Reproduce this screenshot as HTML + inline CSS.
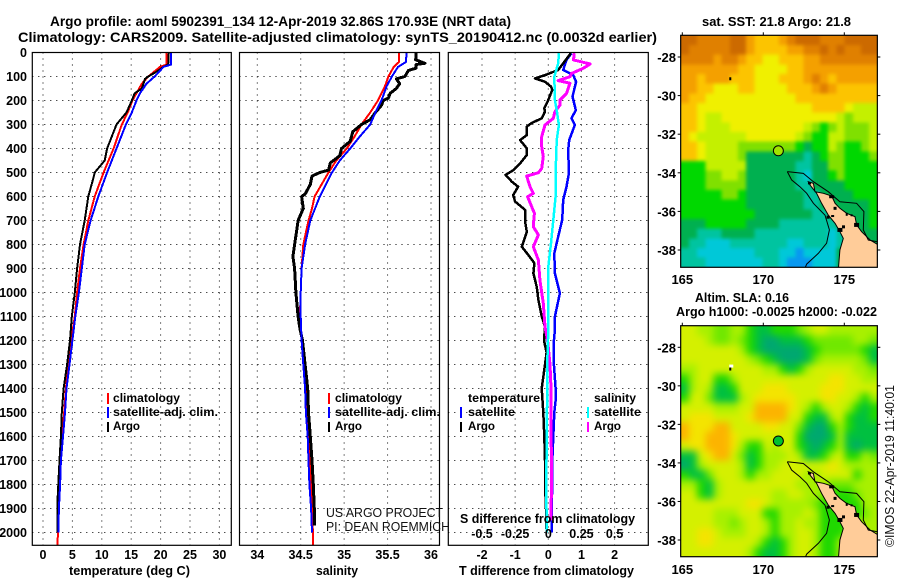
<!DOCTYPE html>
<html>
<head>
<meta charset="utf-8">
<title>Argo profile 5902391_134</title>
<style>
html,body{margin:0;padding:0;background:#fff;}
svg{display:block;font-family:"Liberation Sans",sans-serif;}
.b{font-weight:bold;fill:#000;}
.r{font-weight:normal;fill:#111;}
</style>
</head>
<body>
<svg id="chart" xmlns="http://www.w3.org/2000/svg" width="900" height="580" viewBox="0 0 900 580">
<rect width="900" height="580" fill="#fff"/>
<text class="b" x="50" y="26" font-size="13.5" textLength="461" lengthAdjust="spacingAndGlyphs">Argo profile: aoml 5902391_134 12-Apr-2019 32.86S 170.93E (NRT data)</text>
<text class="b" x="18" y="42" font-size="13.5" textLength="639" lengthAdjust="spacingAndGlyphs">Climatology: CARS2009. Satellite-adjusted climatology: synTS_20190412.nc (0.0032d earlier)</text>
<g id="panels"></g>
<g id="maps"></g>
<text class="b" x="69" y="575" font-size="12.5" textLength="121" lengthAdjust="spacingAndGlyphs">temperature (deg C)</text>
<text class="b" x="316" y="575" font-size="12.5" textLength="42" lengthAdjust="spacingAndGlyphs">salinity</text>
<text class="b" x="459" y="575" font-size="12.5" textLength="175" lengthAdjust="spacingAndGlyphs">T difference from climatology</text>
<text class="b" x="460" y="523" font-size="12.5" textLength="175" lengthAdjust="spacingAndGlyphs">S difference from climatology</text>
<text class="r" x="326" y="517" font-size="12.5" textLength="117" lengthAdjust="spacingAndGlyphs">US ARGO PROJECT</text>
<text class="r" x="326" y="531" font-size="12.5" textLength="124" lengthAdjust="spacingAndGlyphs">PI: DEAN ROEMMICH</text>
<g>
<text class="b" x="113" y="402" font-size="12" textLength="67" lengthAdjust="spacingAndGlyphs">climatology</text>
<text class="b" x="113" y="416" font-size="12" textLength="105" lengthAdjust="spacingAndGlyphs">satellite-adj. clim.</text>
<text class="b" x="113" y="430" font-size="12" textLength="27" lengthAdjust="spacingAndGlyphs">Argo</text>
<rect x="107" y="393" width="2" height="11" fill="#f00"/>
<rect x="107" y="407" width="2" height="11" fill="#00f"/>
<rect x="107" y="422" width="2" height="10" fill="#000"/>
</g>
<g>
<text class="b" x="335" y="402" font-size="12" textLength="67" lengthAdjust="spacingAndGlyphs">climatology</text>
<text class="b" x="335" y="416" font-size="12" textLength="105" lengthAdjust="spacingAndGlyphs">satellite-adj. clim.</text>
<text class="b" x="335" y="430" font-size="12" textLength="27" lengthAdjust="spacingAndGlyphs">Argo</text>
<rect x="328" y="393" width="2" height="11" fill="#f00"/>
<rect x="328" y="407" width="2" height="11" fill="#00f"/>
<rect x="328" y="422" width="2" height="10" fill="#000"/>
</g>
<g>
<text class="b" x="468" y="402" font-size="12" textLength="72" lengthAdjust="spacingAndGlyphs">temperature</text>
<text class="b" x="468" y="416" font-size="12" textLength="47" lengthAdjust="spacingAndGlyphs">satellite</text>
<text class="b" x="468" y="430" font-size="12" textLength="27" lengthAdjust="spacingAndGlyphs">Argo</text>
<rect x="460" y="407" width="2" height="11" fill="#00f"/>
<rect x="460" y="422" width="2" height="10" fill="#000"/>
<text class="b" x="594" y="402" font-size="12" textLength="42" lengthAdjust="spacingAndGlyphs">salinity</text>
<text class="b" x="594" y="416" font-size="12" textLength="47" lengthAdjust="spacingAndGlyphs">satellite</text>
<text class="b" x="594" y="430" font-size="12" textLength="27" lengthAdjust="spacingAndGlyphs">Argo</text>
<rect x="587" y="407" width="2" height="11" fill="#0ff"/>
<rect x="587" y="422" width="2" height="10" fill="#f0f"/>
</g>
<text class="b" x="702" y="26" font-size="12.5" textLength="149" lengthAdjust="spacingAndGlyphs">sat. SST: 21.8 Argo: 21.8</text>
<text class="b" x="695" y="302" font-size="12.5" textLength="94" lengthAdjust="spacingAndGlyphs">Altim. SLA: 0.16</text>
<text class="b" x="676" y="316" font-size="12.5" textLength="201" lengthAdjust="spacingAndGlyphs">Argo h1000: -0.0025 h2000: -0.022</text>
<text class="r" font-size="13" transform="translate(894,547) rotate(-90)" textLength="162" lengthAdjust="spacingAndGlyphs">©IMOS 22-Apr-2019 11:40:01</text>
</svg>
<script>
/* ---------- profile data (depth in m, temperature in deg C, salinity in psu) ---------- */
const depthTicks = [0,100,200,300,400,500,600,700,800,900,1000,1100,1200,1300,1400,1500,1600,1700,1800,1900,2000];
const tempTicks = [0,5,10,15,20,25,30];
const salTicks = [34,34.5,35,35.5,36];
const salTickLabels = ['34','34.5','35','35.5','36'];
const tDiffTicks = [-2,-1,0,1,2];
const sDiffTicks = [-0.5,-0.25,0,0.25,0.5];
const sDiffTickLabels = ['-0.5','-0.25','0','0.25','0.5'];

const tempClimDepth = [0,40,50,60,100,130,170,200,250,300,400,500,600,700,800,900,1000,1100,1200,1300,1400,1500,1600,1700,1800,1900,2000,2053];
const tempClim = [21.0,21.0,21.0,19.9,17.9,16.8,15.9,15.2,14.4,13.4,12.0,10.3,8.8,7.7,6.9,6.3,5.8,5.4,4.8,4.3,3.9,3.6,3.2,2.95,2.8,2.7,2.55,2.45];
const tempSatDepth = [0,50,60,100,130,170,200,250,300,400,500,600,700,800,900,1000,1100,1200,1300,1400,1500,1600,1700,1800,1900,2000];
const tempSat = [21.8,21.8,20.5,19.0,17.6,16.5,15.9,15.1,14.1,12.5,10.9,9.4,8.1,7.1,6.6,6.1,5.5,5.0,4.5,4.0,3.75,3.4,3.05,2.9,2.7,2.6];
const tempArgoDepth = [0,50,60,80,100,110,150,170,200,250,300,350,400,450,500,520,600,700,800,900,1000,1100,1200,1300,1400,1500,1600,1700,1800,1850,2000];
const tempArgo = [21.4,21.3,20.5,19.3,17.9,17.35,16.8,15.6,15.1,14.2,12.5,11.7,10.9,10.5,8.8,8.6,7.7,7.1,6.3,5.8,5.4,4.9,4.6,4.1,3.5,3.2,3.05,2.8,2.6,2.5,2.5];

const salClimDepth = [0,40,60,100,140,200,250,300,350,400,450,500,600,650,700,800,900,1000,1100,1200,1300,1400,1500,1600,1700,1800,1900,2000,2053];
const salClim = [35.63,35.63,35.57,35.51,35.47,35.39,35.3,35.2,35.12,35.03,34.91,34.82,34.66,34.63,34.59,34.53,34.51,34.5,34.49,34.51,34.53,34.556,34.57,34.59,34.61,34.62,34.63,34.64,34.64];
const salSatDepth = [0,40,60,100,140,200,250,300,350,400,450,500,600,700,800,900,1000,1100,1200,1300,1400,1500,1600,1700,1800,1900,2000];
const salSat = [35.72,35.71,35.62,35.55,35.49,35.43,35.36,35.3,35.18,35.07,34.95,34.86,34.72,34.61,34.55,34.51,34.5,34.5,34.51,34.53,34.55,34.56,34.58,34.59,34.6,34.62,34.63];
const salArgoDepth = [0,20,30,45,50,65,75,100,110,130,150,170,190,200,220,250,280,300,330,370,400,430,460,490,500,515,550,590,600,650,700,750,800,850,900,1000,1100,1150,1200,1300,1400,1500,1600,1700,1800,1900,1970];
const salArgo = [35.83,35.83,35.82,35.93,35.83,35.83,35.74,35.7,35.6,35.64,35.6,35.53,35.51,35.45,35.43,35.36,35.3,35.2,35.1,35.07,34.97,34.95,34.84,34.82,34.72,34.63,34.61,34.55,34.51,34.53,34.47,34.45,34.43,34.41,34.43,34.445,34.47,34.49,34.52,34.55,34.58,34.59,34.61,34.63,34.645,34.656,34.66];

const tDiffSatDepth = [3,31,73,94,122,184,240,274,302,365,406,503,559,614,698,767,837,920,1003,1100,1156,1200,1300,1400,1450,1500,1600,1700,1800,1900,2000];
const tDiffSat = [0.7,0.55,0.45,0.75,0.84,0.73,0.83,0.7,0.8,0.63,0.6,0.62,0.55,0.45,0.42,0.3,0.18,0.2,0.35,0.2,0.2,0.17,0.17,0.22,0.22,0.18,0.15,0.12,0.12,0.1,0.1];
const tDiffArgoDepth = [3,17,45,73,94,108,122,142,156,198,232,246,274,295,309,344,365,399,427,462,490,510,538,559,594,621,656,705,747,809,844,878,920,976,1031,1100,1142,1200,1250,1300,1400,1500,1600,1700,1800,1900,2000];
const tDiffArgo = [0.68,0.6,0.45,0.3,-0.1,-0.4,-0.1,0.08,0.12,0,-0.12,-0.1,-0.2,-0.52,-0.65,-0.65,-0.85,-0.65,-0.65,-0.85,-1.05,-1.29,-1.1,-0.91,-1.06,-1.0,-0.7,-0.7,-0.65,-0.8,-0.6,-0.42,-0.45,-0.35,-0.3,-0.2,-0.1,-0.13,-0.05,-0.1,-0.2,-0.15,-0.12,-0.1,-0.1,-0.07,-0.05];
const sDiffSatDepth = [3,45,101,198,240,302,365,503,600,698,795,892,1003,1156,1300,1400,1600,1800,2000];
const sDiffSat = [0.08,0.075,0.045,0.05,0.063,0.08,0.063,0.055,0.055,0.038,0.02,0,0,0,-0.008,-0.008,-0.012,-0.015,-0.012];
const sDiffArgoDepth = [3,31,48,66,87,101,117,128,170,198,219,247,274,302,351,392,434,483,501,515,559,587,601,670,726,760,809,865,948,1045,1142,1200,1300,1400,1500,1600,1700,1800,1900,1950];
const sDiffArgo = [0.196,0.19,0.315,0.264,0.176,0.163,0.075,0.163,0.138,0.088,0.088,0.05,0.038,-0.025,-0.05,-0.05,-0.038,-0.05,-0.075,-0.163,-0.138,-0.113,-0.156,-0.105,-0.113,-0.075,-0.113,-0.075,-0.063,-0.038,-0.025,-0.005,0.013,0.02,0.02,0.02,0.025,0.025,0.02,0.02];

/* ---------- map data (rows run north to south, columns west to east, 0.5 degree cells) ---------- */
const lonTicks = [165,170,175];
const latTicks = [28,30,32,34,36,38];
const sstPalette = ['#cc6a00','#e08000','#f4a000','#fcc400','#f0f000','#c4f000','#80e000','#00d800','#00b050','#00c4a0','#00c8d8','#0898f0'];
const slaPalette = ['#fcb400','#f4e400','#d4f000','#a8f000','#70e800','#20d800','#00c040','#00a870'];
const sstLevels = [
[0,0,1,1,1,1,0,0,2,3,3,3,2,1,0,0,0,1,1,1,0,0,0,0],
[0,1,1,1,1,1,0,0,2,3,3,3,3,2,2,1,1,0,1,0,1,1,0,0],
[1,1,1,1,2,1,1,2,3,3,4,4,3,3,3,2,2,1,1,1,1,1,1,1],
[2,2,2,2,2,2,2,3,3,4,4,4,4,3,3,2,2,2,2,2,2,2,2,2],
[2,2,3,2,2,2,3,3,3,4,4,4,3,3,3,2,1,2,3,2,2,2,2,2],
[2,2,3,3,4,4,4,3,3,4,4,4,4,3,3,3,2,1,2,3,3,3,3,3],
[2,3,3,4,4,4,4,4,4,4,4,4,4,4,3,3,3,3,3,3,3,3,3,3],
[3,3,4,4,4,4,4,4,4,4,4,4,4,4,4,4,3,3,3,3,4,5,5,5],
[3,3,4,5,5,4,4,4,4,4,4,4,4,4,4,4,4,4,4,5,6,5,5,5],
[3,3,4,5,5,5,4,4,4,4,4,4,4,4,4,5,6,7,6,5,6,6,6,5],
[3,4,5,5,5,5,5,5,4,4,4,4,4,4,5,6,7,7,5,5,6,6,6,5],
[3,3,4,5,5,5,5,6,6,6,6,6,6,6,7,8,7,7,5,6,7,7,6,5],
[3,3,4,5,5,5,5,6,8,8,8,8,8,8,8,9,8,7,6,6,7,7,7,6],
[7,7,7,5,5,5,5,5,8,8,8,8,8,8,9,9,8,8,6,6,7,7,7,7],
[7,7,7,6,6,5,5,6,8,8,8,8,8,8,9,10,8,8,7,6,7,7,7,7],
[7,7,7,6,6,6,6,6,8,8,8,8,8,8,9,9,8,8,8,8,7,7,7,7],
[7,7,7,7,7,6,6,7,8,8,8,8,8,8,8,9,9,8,8,8,8,7,7,7],
[7,7,7,7,7,7,7,7,8,8,8,8,8,8,8,9,9,8,8,8,8,8,8,7],
[7,7,7,7,7,7,7,7,7,8,8,8,8,8,8,8,9,9,8,8,8,8,8,7],
[8,8,8,7,7,7,7,7,8,8,8,8,9,9,9,9,9,9,9,8,8,8,8,7],
[8,8,9,9,9,8,8,8,8,9,9,9,9,9,9,9,9,9,10,9,8,8,8,8],
[8,9,9,10,10,10,9,9,9,9,9,9,9,10,10,9,9,9,10,9,8,8,8,8],
[9,9,10,10,10,10,10,10,10,9,9,9,10,10,11,10,10,10,10,8,8,8,8,8],
[9,9,9,10,10,10,10,10,10,10,9,9,10,11,11,11,10,10,10,8,8,8,8,8]
];
const slaLevels = [
[2,2,3,3,4,4,3,3,5,6,6,5,5,5,4,3,2,2,3,3,3,3,3,3],
[2,2,2,3,4,4,3,4,5,6,7,7,6,6,6,5,4,4,4,4,4,3,3,4],
[2,2,2,2,2,2,2,3,5,6,7,7,7,7,7,6,5,4,4,4,4,4,5,6],
[2,2,2,2,2,2,2,2,3,4,5,6,7,7,7,6,4,3,3,3,3,3,4,6],
[3,3,2,2,2,2,2,2,2,2,3,3,5,6,5,3,2,2,2,2,2,3,3,4],
[5,3,2,2,5,5,3,2,2,2,2,2,2,2,2,2,2,2,1,1,2,2,3,3],
[6,3,2,3,6,6,5,2,2,2,1,1,1,2,2,2,2,1,1,1,2,2,2,2],
[5,2,2,4,6,6,6,3,2,1,1,1,1,1,2,2,2,1,1,2,2,3,5,3],
[2,2,2,2,3,3,3,2,2,0,0,0,0,1,2,3,5,3,2,2,3,5,6,5],
[2,1,1,1,2,2,2,2,1,0,0,0,0,2,2,5,6,6,3,2,5,6,6,5],
[0,1,1,1,0,0,2,2,2,2,1,1,2,2,4,6,7,7,5,3,5,6,6,6],
[0,1,1,0,0,0,1,2,2,2,2,2,2,2,5,7,7,7,6,3,6,6,6,6],
[2,1,1,0,0,0,1,3,5,5,2,3,2,2,5,6,7,6,5,3,6,7,6,6],
[6,6,2,1,0,0,2,4,6,5,3,3,3,2,3,6,6,5,3,2,5,5,3,4],
[7,6,3,2,2,2,2,3,6,5,3,3,2,2,2,2,2,2,1,2,3,3,3,3],
[5,6,6,4,2,2,2,3,5,3,3,2,2,2,2,3,3,2,2,2,2,5,3,3],
[3,3,5,6,3,2,2,2,2,2,2,2,2,2,3,3,3,3,4,4,4,3,3,3],
[2,2,5,6,3,2,2,2,2,2,2,3,3,2,2,3,3,4,5,5,5,4,3,3],
[2,2,2,2,2,2,2,2,1,1,2,3,3,3,3,3,4,5,5,5,5,5,3,3],
[2,2,2,2,3,3,3,2,2,2,5,5,3,3,3,2,3,5,5,5,5,5,4,3],
[2,2,2,2,3,3,4,3,2,2,3,5,3,3,2,3,3,5,5,5,5,3,3,3],
[2,2,1,1,2,3,3,3,2,2,3,5,3,3,2,2,3,5,5,5,3,3,3,3],
[2,2,1,1,2,2,2,2,2,3,5,6,5,3,2,2,3,5,5,3,3,3,3,3],
[2,2,2,2,2,2,2,2,3,5,6,6,5,3,2,2,3,5,5,3,3,3,3,3]
];
const landLon = [172.78,173.09,173.19,173.71,174.22,174.43,174.73,175.15,175.66,175.76,176.07,176.59,177.2,177.2,174.63,174.73,174.94,174.73,174.43,174.01,173.6,173.29,172.88];
const landLat = [34.46,34.55,34.98,35.06,35.2,35.58,35.84,36.1,36.27,36.7,37.05,37.48,37.79,39.04,39.04,38,37.4,37.05,36.62,36.19,35.58,35.06,34.63];
const contourWestLon = [171.48,171.75,172.26,172.68,173.09,173.81,174.08,173.91,173.4,172.68,172.57];
const contourWestLat = [33.94,34.37,34.72,35.06,35.58,36.19,36.96,37.65,38.17,38.73,38.95];
const contourEastLon = [171.48,172.47,173.09,174.01,174.73,175.76,176.21,176.17,176.48,177.04];
const contourEastLat = [33.94,34.03,34.46,34.98,35.5,35.58,36.01,36.96,37.48,37.57];
const speckLon = [174.22,174.43,174.28,174.73,175.76,175.15,175.45,174.95,172.85,174.0];
const speckLat = [35.24,35.84,36.24,36.96,36.7,36.15,36.2,36.8,34.55,36.3];
const speckW = [5,3,3,5,5,2,2,3,3,3];
const speckH = [3,3,2,4,4,3,2,3,2,3];
const argoLon = 170.93;
const argoLat = 32.86;

/* ---------- drawing ---------- */
const NS = 'http://www.w3.org/2000/svg';
const panels = document.getElementById('panels');
const maps = document.getElementById('maps');
const TOP = 52.5, BOTTOM = 545.3, DEPTH_SCALE = 0.24;
const depthY = d => TOP + d * DEPTH_SCALE;
const tempX = t => 43 + 5.88 * t;
const salX = s => 257.3 + 86.85 * (s - 34);
const tDiffX = t => 548.3 + 33.15 * t;
const sDiffX = s => 548.3 + 132.6 * s;

function make(parent, tag, props) {
  const e = document.createElementNS(NS, tag);
  for (const k in props) e.setAttribute(k, props[k]);
  parent.appendChild(e);
  return e;
}
function label(parent, x, y, str, anchor, size) {
  const e = make(parent, 'text', {x: x, y: y, 'text-anchor': anchor, 'font-size': size, class: 'b'});
  e.textContent = str;
  return e;
}
function series(parent, depths, values, xFn, color, width, name) {
  const pts = depths.map((d, i) => xFn(values[i]).toFixed(1) + ',' + depthY(d).toFixed(1)).join(' ');
  const e = make(parent, 'polyline', {points: pts, fill: 'none', stroke: color, 'stroke-width': width, 'stroke-linejoin': 'round', 'shape-rendering': 'crispEdges'});
  
  
  return e;
}
function profilePanel(name, x0, x1, xFn, ticks) {
  const g = make(panels, 'g', {});
  
  
  ticks.forEach(t => {
    const gl = make(g, 'line', {x1: xFn(t), x2: xFn(t), y1: TOP, y2: BOTTOM, stroke: '#000', 'stroke-width': 1, 'stroke-dasharray': '1 5'});
    
    
  });
  depthTicks.forEach(d => {
    if (d === 0) return;
    const gl = make(g, 'line', {x1: x0, x2: x1, y1: depthY(d), y2: depthY(d), stroke: '#000', 'stroke-width': 1, 'stroke-dasharray': '1 5'});
    
    
  });
  return g;
}
function frame(parent, x0, y0, x1, y1, name) {
  const f = make(parent, 'rect', {x: x0, y: y0, width: x1 - x0, height: y1 - y0, fill: 'none', stroke: '#000', 'stroke-width': 1.2});
  
  
}

/* temperature panel */
const p1 = profilePanel('temperature-panel', 32.3, 231.3, tempX, tempTicks);
series(p1, tempClimDepth, tempClim, tempX, '#f00', 2, 'temperature-climatology-line');
series(p1, tempArgoDepth, tempArgo, tempX, '#000', 2, 'temperature-argo-line');
series(p1, tempSatDepth, tempSat, tempX, '#00f', 2, 'temperature-satellite-line');
frame(p1, 32.3, TOP, 231.3, BOTTOM, 'temperature-panel-frame');
tempTicks.forEach(t => {
  const e = label(p1, tempX(t), 559, String(t), 'middle', 12.5);
  
  
});
depthTicks.forEach(d => {
  const e = label(p1, 27, depthY(d) + 4.5, String(d), 'end', 12.5);
  
  
});

/* salinity panel */
const p2 = profilePanel('salinity-panel', 239.5, 439.5, salX, salTicks);
series(p2, salClimDepth, salClim, salX, '#f00', 2, 'salinity-climatology-line');
series(p2, salArgoDepth, salArgo, salX, '#000', 3, 'salinity-argo-line');
series(p2, salSatDepth, salSat, salX, '#00f', 2, 'salinity-satellite-line');
frame(p2, 239.5, TOP, 439.5, BOTTOM, 'salinity-panel-frame');
salTicks.forEach((t, i) => {
  const e = label(p2, salX(t), 559, salTickLabels[i], 'middle', 12.5);
  
  
});

/* difference panel */
const p3 = profilePanel('difference-panel', 448.3, 648.3, tDiffX, tDiffTicks);
series(p3, tDiffSatDepth, tDiffSat, tDiffX, '#00f', 2.5, 't-difference-satellite-line');
series(p3, tDiffArgoDepth, tDiffArgo, tDiffX, '#000', 2.5, 't-difference-argo-line');
series(p3, sDiffArgoDepth, sDiffArgo, sDiffX, '#f0f', 3, 's-difference-argo-line');
series(p3, sDiffSatDepth, sDiffSat, sDiffX, '#0ff', 2.5, 's-difference-satellite-line');
frame(p3, 448.3, TOP, 648.3, BOTTOM, 'difference-panel-frame');
tDiffTicks.forEach(t => {
  const e = label(p3, tDiffX(t), 559, String(t), 'middle', 12.5);
  
  
});
sDiffTicks.forEach((s, i) => {
  const e = label(p3, sDiffX(s), 538, sDiffTickLabels[i], 'middle', 12.5);
  
  
});

/* maps */
const LON0 = 164.9, LON1 = 177.04;
function drawMap(name, levels, palette, yTop, yBottom, lat28, latScale, labelY, circleFill, smooth, bg, isletPatch) {
  const lonX = lon => 682.3 + 16.2 * (lon - 165);
  const latY = lat => lat28 + latScale * (lat - 28);
  const x0 = lonX(LON0), x1 = lonX(LON1);
  const g = make(maps, 'g', {});
  
  
  const clipId = name + '-clip';
  const defs = make(g, 'defs', {});
  const clip = make(defs, 'clipPath', {id: clipId});
  make(clip, 'rect', {x: x0, y: yTop, width: x1 - x0, height: yBottom - yTop});
  const body = make(g, 'g', {'clip-path': 'url(#' + clipId + ')'});
  const under = make(body, 'rect', {x: x0, y: yTop, width: x1 - x0, height: yBottom - yTop, fill: bg});
  
  
  const cells = make(body, 'g', {});
  
  
  if (smooth) {
    const f = make(defs, 'filter', {id: name + '-blur', x: '-10%', y: '-10%', width: '120%', height: '120%', 'color-interpolation-filters': 'sRGB'});
    make(f, 'feGaussianBlur', {stdDeviation: smooth});
    cells.setAttribute('filter', 'url(#' + name + '-blur)');
  }
  const rows = levels.length, cols = levels[0].length;
  const cw = (x1 - x0) / cols, ch = (yBottom - yTop) / rows;
  const pad = 14;
  levels.forEach((row, r) => row.forEach((v, c) => {
    const left = x0 + c * cw - (c === 0 ? pad : 0);
    const top = yTop + r * ch - (r === 0 ? pad : 0);
    const w = cw + 0.5 + (c === 0 || c === cols - 1 ? pad : 0);
    const h = ch + 0.5 + (r === 0 || r === rows - 1 ? pad : 0);
    const cell = make(cells, 'rect', {x: left, y: top, width: w, height: h, fill: palette[v], 'shape-rendering': 'crispEdges'});
    
    
  }));
  const land = make(body, 'polygon', {points: landLon.map((l, i) => lonX(l).toFixed(1) + ',' + latY(landLat[i]).toFixed(1)).join(' '), fill: '#ffcc99', stroke: '#000', 'stroke-width': 1});
  
  
  [[contourWestLon, contourWestLat, 'west'], [contourEastLon, contourEastLat, 'east']].forEach(ct => {
    const line = make(body, 'polyline', {points: ct[0].map((l, i) => lonX(l).toFixed(1) + ',' + latY(ct[1][i]).toFixed(1)).join(' '), fill: 'none', stroke: '#000', 'stroke-width': 1});
    
    
  });
  speckLon.forEach((l, i) => {
    const sp = make(body, 'rect', {x: lonX(l) - speckW[i] / 2, y: latY(speckLat[i]) - speckH[i] / 2, width: speckW[i], height: speckH[i], fill: '#000'});
    
    
  });
  if (isletPatch) {
    const patch = make(body, 'rect', {x: lonX(167.9), y: latY(29.0) - 2, width: 4, height: 3, fill: '#fff'});
    
    
  }
  const islet = make(body, 'rect', {x: lonX(167.9), y: latY(29.05), width: 2, height: 3, fill: '#000'});
  
  
  const dot = make(g, 'circle', {cx: lonX(argoLon), cy: latY(argoLat), r: 5, fill: circleFill, stroke: '#000', 'stroke-width': 1});
  
  
  frame(g, x0, yTop, x1, yBottom, name + '-frame');
  lonTicks.forEach(l => {
    const tk = make(g, 'line', {x1: lonX(l), x2: lonX(l), y1: yTop - 3, y2: yTop, stroke: '#000', 'stroke-width': 1});
    
    
    const e = label(g, lonX(l), labelY, String(l), 'middle', 13);
    
    
  });
  latTicks.forEach(la => {
    const tl = make(g, 'line', {x1: x0 - 3, x2: x0, y1: latY(la), y2: latY(la), stroke: '#000', 'stroke-width': 1});
    
    
    const tr = make(g, 'line', {x1: x1, x2: x1 + 3, y1: latY(la), y2: latY(la), stroke: '#000', 'stroke-width': 1});
    
    
    const e = label(g, 676, latY(la) + 5, '-' + la, 'end', 13);
    
    
  });
}
drawMap('sst-map', sstLevels, sstPalette, 35.3, 267.3, 57, 19.3, 284, '#a0e400', 1.8, '#00d800', false);
drawMap('sla-map', slaLevels, slaPalette, 325.7, 556.7, 347.3, 19.27, 574, '#00c030', 3.8, '#c8f000', true);
</script>
</body>
</html>
